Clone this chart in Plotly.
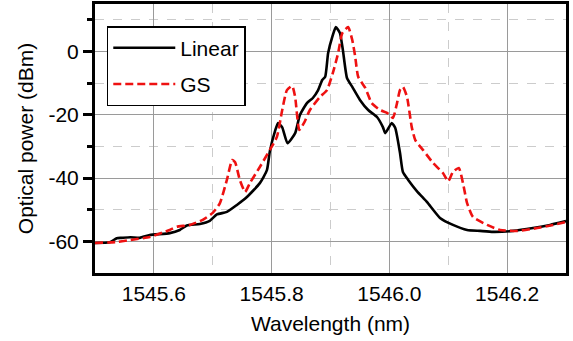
import plotly.graph_objects as go

# Wavelength (nm) and optical power (dBm)
linear_wl = [1545.500, 1545.525, 1545.537, 1545.545, 1545.560, 1545.576, 1545.593, 1545.627,
             1545.644, 1545.656, 1545.678, 1545.695, 1545.707, 1545.724, 1545.741, 1545.758,
             1545.780, 1545.792, 1545.797, 1545.806, 1545.811, 1545.818, 1545.827, 1545.840,
             1545.848, 1545.860, 1545.870, 1545.879, 1545.886, 1545.891, 1545.896, 1545.903,
             1545.909, 1545.916, 1545.921, 1545.928, 1545.937, 1545.950, 1545.964, 1545.979,
             1545.989, 1545.993, 1546.004, 1546.010, 1546.018, 1546.023, 1546.032, 1546.047,
             1546.064, 1546.086, 1546.108, 1546.132, 1546.154, 1546.176, 1546.210, 1546.244,
             1546.273, 1546.300]
linear_pw = [-60.5, -60.3, -59.0, -58.9, -58.7, -58.9, -58.0, -57.4,
             -56.4, -55.0, -54.5, -53.5, -51.5, -50.7, -48.5, -46.0,
             -41.6, -37.5, -31.5, -25.0, -22.6, -24.0, -29.0, -25.8,
             -20.1, -16.3, -14.7, -12.2, -9.0, -8.0, -0.5, 4.6,
             7.7, 5.8, 0.5, -8.4, -11.2, -15.3, -18.5, -20.7,
             -23.9, -25.8, -22.6, -24.2, -32.0, -38.1, -40.6, -44.2,
             -47.6, -52.6, -54.8, -56.4, -56.7, -57.0, -56.7, -55.8,
             -54.8, -53.6]

gs_wl = [1545.500, 1545.537, 1545.559, 1545.593, 1545.627, 1545.639, 1545.661, 1545.683,
         1545.700, 1545.712, 1545.724, 1545.733, 1545.738, 1545.746, 1545.755, 1545.763,
         1545.780, 1545.797, 1545.809, 1545.818, 1545.826, 1545.835, 1545.840, 1545.847,
         1545.855, 1545.865, 1545.882, 1545.894, 1545.904, 1545.913, 1545.920, 1545.930,
         1545.937, 1545.942, 1545.947, 1545.959, 1545.970, 1545.984, 1545.996, 1546.006,
         1546.013, 1546.018, 1546.023, 1546.030, 1546.038, 1546.044, 1546.057, 1546.074,
         1546.091, 1546.100, 1546.108, 1546.118, 1546.125, 1546.132, 1546.142, 1546.166,
         1546.188, 1546.217, 1546.251, 1546.278, 1546.300]
gs_pw = [-60.5, -60.2, -59.6, -58.6, -56.4, -55.4, -54.8, -53.2,
         -51.0, -48.0, -40.6, -34.3, -35.0, -40.6, -44.4, -41.6,
         -36.5, -31.1, -27.0, -18.5, -12.2, -10.9, -14.4, -24.8,
         -22.6, -18.5, -14.4, -12.2, -6.8, -0.5, 5.8, 7.7,
         3.6, -1.7, -8.0, -11.5, -16.3, -18.5, -19.4, -21.0,
         -16.3, -12.2, -11.2, -14.4, -23.9, -28.0, -31.1, -35.2,
         -38.4, -41.0, -38.0, -36.8, -41.6, -47.9, -52.3, -54.8,
         -56.4, -56.7, -55.8, -54.8, -53.9]

x_ticks = [1545.6, 1545.8, 1546.0, 1546.2]
x_ticklabels = ["1545.6", "1545.8", "1546.0", "1546.2"]
y_ticks = [0, -20, -40, -60]
y_ticklabels = ["0", "-20", "-40", "-60"]

FONT = "Liberation Sans, Arial, sans-serif"

fig = go.Figure()
fig.add_trace(go.Scatter(x=linear_wl, y=linear_pw, mode="lines", name="Linear",
                         legendgroup="a",
                         line=dict(color="black", width=2.6, shape="spline", smoothing=0.5)))
fig.add_trace(go.Scatter(x=gs_wl, y=gs_pw, mode="lines", name="GS",
                         legendgroup="b",
                         line=dict(color="#ee1111", width=2.6, dash="8px,4px",
                                   shape="spline", smoothing=0.5)))

fig.update_layout(
    width=573, height=341,
    margin=dict(l=95, r=7, t=4, b=68, autoexpand=False),
    paper_bgcolor="white", plot_bgcolor="white",
    font=dict(family=FONT, size=21, color="black"),
    showlegend=True,
    legend=dict(x=0.025, y=0.918, xanchor="left", yanchor="top",
                bgcolor="white", bordercolor="black", borderwidth=1.5,
                font=dict(family=FONT, size=21, color="black"),
                traceorder="grouped", tracegroupgap=6, itemwidth=62),
    xaxis=dict(range=[1545.5, 1546.3], tickvals=x_ticks, ticktext=x_ticklabels,
               ticks="", showline=True, linecolor="black", linewidth=3, mirror=True,
               showgrid=True, gridcolor="#9a9a9a", gridwidth=1.4, zeroline=False,
               automargin=False, tickfont=dict(size=21),
               minor=dict(tickvals=[1545.7, 1545.9, 1546.1], showgrid=True,
                          gridcolor="#cccccc", griddash="dash", gridwidth=1, ticks=""),
               title=dict(text="Wavelength (nm)", font=dict(size=21), standoff=13)),
    yaxis=dict(range=[-70, 15], tickvals=y_ticks, ticktext=y_ticklabels,
               ticks="outside", ticklen=9, tickwidth=2.5, tickcolor="black",
               showline=True, linecolor="black", linewidth=3, mirror=True,
               showgrid=True, gridcolor="#9a9a9a", gridwidth=1.4, zeroline=False,
               automargin=False, tickfont=dict(size=21),
               minor=dict(tickvals=[10, -10, -30, -50], showgrid=True,
                          gridcolor="#cccccc", griddash="dash", gridwidth=1,
                          ticks="outside", ticklen=5, tickwidth=2.5, tickcolor="black"),
               title=dict(text="Optical power (dBm)", font=dict(size=21), standoff=10)),
)

fig.write_html("out.html", config={"displayModeBar": False},
               post_script="document.body.style.margin='0';document.body.style.overflow='hidden';")
